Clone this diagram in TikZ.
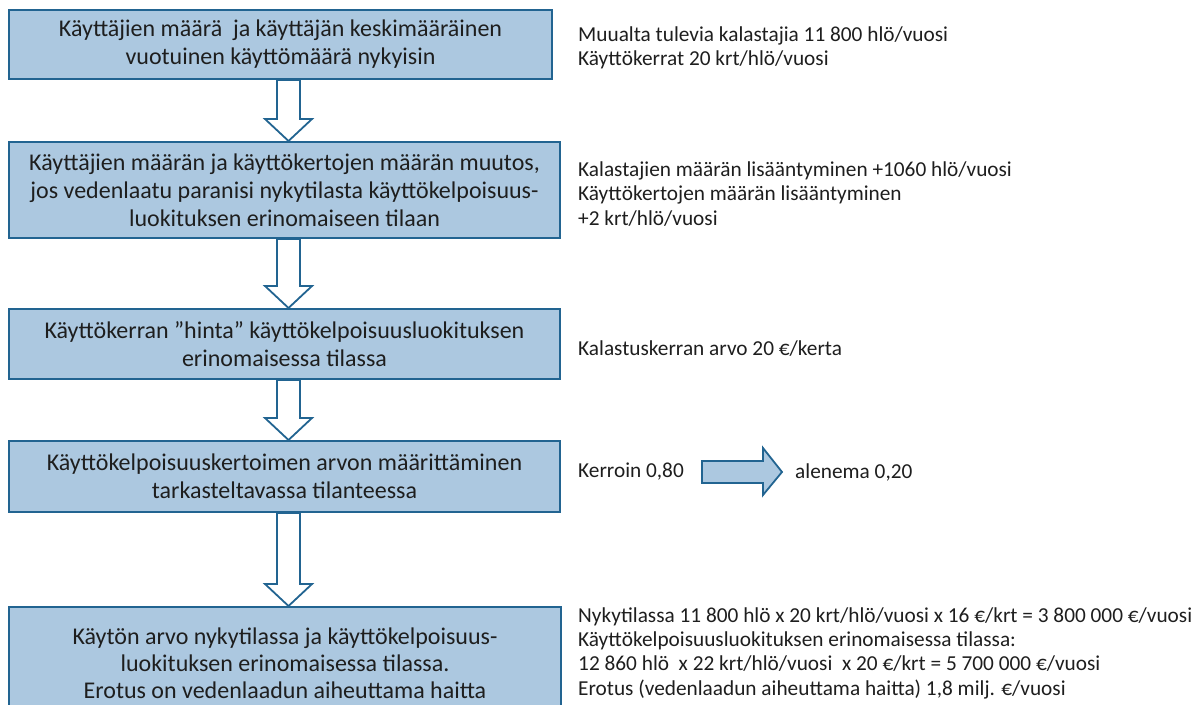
\documentclass[tikz,border=0pt]{standalone}
\usepackage{fontspec}
\setmainfont{Carlito}
\usetikzlibrary{calc}
\definecolor{boxfill}{RGB}{172,200,224}
\definecolor{boxline}{RGB}{34,100,145}
\definecolor{txt}{RGB}{30,30,30}
\tikzset{
  flowbox/.style={draw=boxline, line width=2pt, fill=boxfill, inner sep=0pt,
    align=center, text=txt, font=\fontsize{24}{28}\selectfont},
  boxtext/.style={inner sep=0pt, align=center, text=txt, font=\fontsize{24}{27}\selectfont},
  sidetext/.style={anchor=west, align=left, inner sep=0pt, text=txt,
    font=\fontsize{21.3}{24.3}\selectfont},
  blockarrow/.style={draw=boxline, line width=1.8pt, fill=white, line join=miter},
  rightarrow/.style={draw=boxline, line width=1.8pt, fill=boxfill, line join=miter}
}
\newcommand\flowarrow[2]{%
  \path[blockarrow] let \p1=(#1.south), \p2=(#2.north) in
    (277pt,\y1) -- (300pt,\y1) -- (300pt,\y2+22pt) -- (312pt,\y2+22pt) --
    (288.5pt,\y2) -- (265pt,\y2+22pt) -- (277pt,\y2+22pt) -- cycle;}
\begin{document}
\begin{tikzpicture}[x=1pt,y=-1pt]
\useasboundingbox (0,0) rectangle (1204,704);
\begin{scope}
\clip (0,0) rectangle (1204,704);
\node[flowbox, minimum width=543, minimum height=69] (b1) at (280.5,44.5)
  {Käyttäjien määrä\ \ ja käyttäjän keskimääräinen\\vuotuinen käyttömäärä nykyisin};
\node[flowbox, minimum width=551, minimum height=96] (b2) at (284.5,190)
  {Käyttäjien määrän ja käyttökertojen määrän muutos,\\jos vedenlaatu paranisi nykytilasta käyttökelpoisuus-\\luokituksen erinomaiseen tilaan};
\node[flowbox, minimum width=551, minimum height=70] (b3) at (284.5,344)
  {Käyttökerran ”hinta” käyttökelpoisuusluokituksen\\erinomaisessa tilassa};
\node[flowbox, minimum width=551, minimum height=71] (b4) at (284.5,476.5)
  {Käyttökelpoisuuskertoimen arvon määrittäminen\\tarkasteltavassa tilanteessa};
\node[flowbox, minimum width=552, minimum height=116] (b5) at (285,665) {};
\end{scope}
\node[boxtext] (b5t) at (285,663)
  {Käytön arvo nykytilassa ja käyttökelpoisuus-\\luokituksen erinomaisessa tilassa.\\Erotus on vedenlaadun aiheuttama haitta};
\flowarrow{b1}{b2}
\flowarrow{b2}{b3}
\flowarrow{b3}{b4}
\flowarrow{b4}{b5}
\node[sidetext] (t1) at (578,48)
  {Muualta tulevia kalastajia 11 800 hlö/vuosi\\Käyttökerrat 20 krt/hlö/vuosi};
\node[sidetext] (t2) at (578,194)
  {Kalastajien määrän lisääntyminen +1060 hlö/vuosi\\Käyttökertojen määrän lisääntyminen\\+2 krt/hlö/vuosi};
\node[sidetext] (t3) at (578,349) {Kalastuskerran arvo 20 €/kerta};
\node[sidetext] (t4a) at (578,472) {Kerroin 0,80};
\node[sidetext] (t4b) at (795,472) {alenema 0,20};
\path[rightarrow] (702,461) -- (763,461) -- (763,448) -- (782,472) -- (763,495) -- (763,483) -- (702,483) -- cycle;
\node[sidetext] (t5) at (578,653)
  {Nykytilassa 11 800 hlö x 20 krt/hlö/vuosi x 16 €/krt = 3 800 000 €/vuosi\\Käyttökelpoisuusluokituksen erinomaisessa tilassa:\\12 860 hlö\ \ x 22 krt/hlö/vuosi\ \ x 20 €/krt = 5 700 000 €/vuosi\\Erotus (vedenlaadun aiheuttama haitta) 1,8 milj. €/vuosi};
\end{tikzpicture}
\end{document}
